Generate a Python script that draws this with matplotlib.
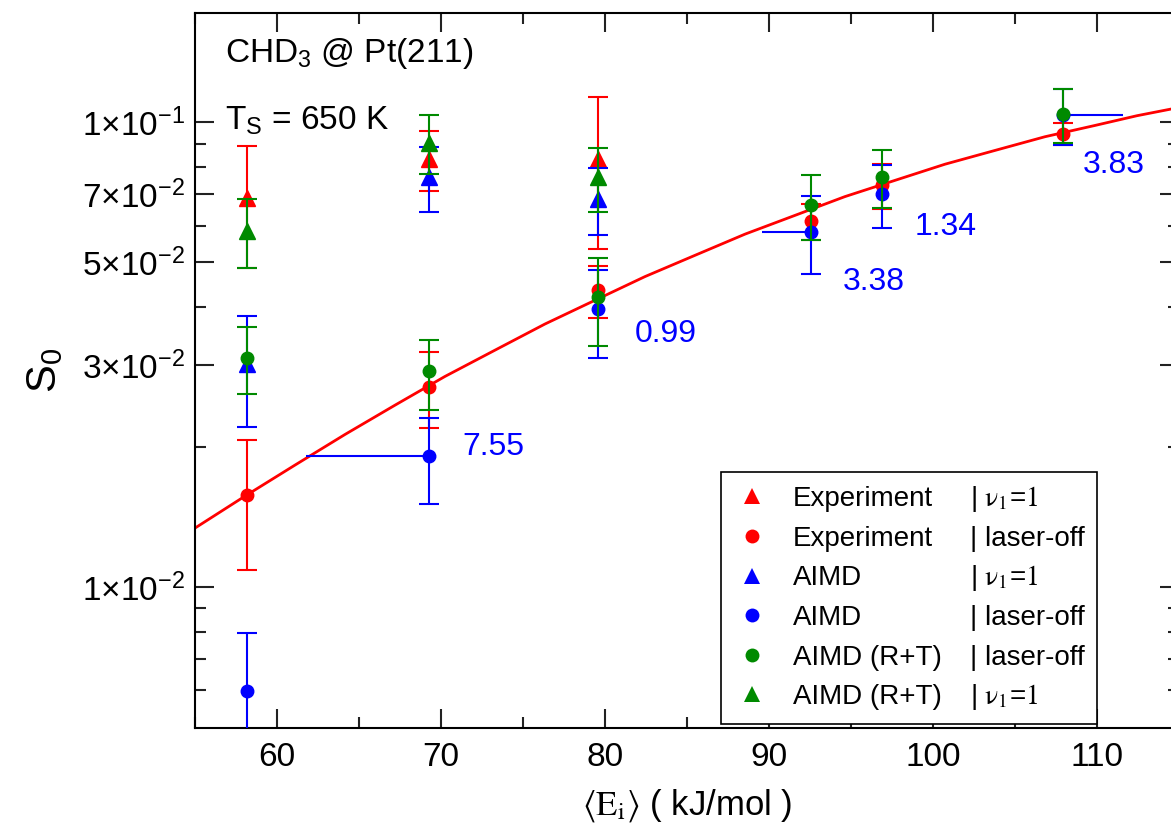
import matplotlib
matplotlib.use("Agg")
import matplotlib.pyplot as plt
from matplotlib.lines import Line2D
from matplotlib.ticker import MultipleLocator, NullFormatter

plt.rcParams["font.family"] = ["Liberation Sans", "DejaVu Sans"]
plt.rcParams["mathtext.fontset"] = "stix"
plt.rcParams["mathtext.default"] = "regular"

RED = "#ff0000"
BLUE = "#0000ff"
GREEN = "#008a00"

# incidence energies (kJ/mol)
energy = [58.2, 69.25, 79.55, 92.55, 96.9, 107.9]
energy_v1 = [58.2, 69.25, 79.55]

# sticking probabilities and error bars
exp_v1 = [0.0687, 0.0834, 0.0833]
exp_v1_err = [0.0201, 0.0123, 0.0300]
exp_off = [0.0158, 0.0270, 0.0435, 0.0613, 0.0732, 0.0946]
exp_off_err = [0.0049, 0.0050, 0.0056, 0.0055, 0.0080, 0.0051]
aimd_v1 = [0.0302, 0.0765, 0.0684]
aimd_v1_err = [0.0081, 0.0122, 0.0112]
aimd_off = [0.00597, 0.0191, 0.0396, 0.0582, 0.0702, 0.1038]
aimd_off_err = [0.0020, 0.0040, 0.0085, 0.0111, 0.0109, 0.0143]
rt_off = [0.0311, 0.0291, 0.0420, 0.0664, 0.0764, 0.1043]
rt_off_err = [0.0051, 0.0050, 0.0090, 0.0105, 0.0110, 0.0140]
rt_v1 = [0.0585, 0.0905, 0.0762]
rt_v1_err = [0.0099, 0.0132, 0.0120]

# fit through the laser-off experiment
fit_energy = [55.0, 58.05, 61.1, 64.15, 67.2, 70.24, 73.29, 76.34, 79.39, 82.44, 85.49,
              88.54, 91.59, 94.63, 97.68, 100.73, 103.78, 106.83, 109.88, 112.44, 115.0]
fit_s0 = [0.01339, 0.01569, 0.01830, 0.02130, 0.02463, 0.02839, 0.03234, 0.03682, 0.04142,
          0.04658, 0.05176, 0.05749, 0.06310, 0.06924, 0.07504, 0.08130, 0.08705, 0.09317,
          0.09853, 0.1034, 0.1077]

# energy shift of AIMD laser-off points onto the fit
shift_idx = [1, 3, 5]
shift_to = [61.75, 89.6, 111.6]
shift_labels = ["7.55", "0.99", "3.38", "1.34", "3.83"]

names = ["Experiment", "Experiment", "AIMD", "AIMD", "AIMD (R+T)", "AIMD (R+T)"]
nu1 = r"| $\mathrm{\nu_1}$=$\mathrm{1}$"
states = [nu1, "| laser-off", nu1, "| laser-off", "| laser-off", nu1]

ytick_values = [0.01, 0.03, 0.05, 0.07, 0.1]
ytick_labels = ["1×10$^{-2}$", "3×10$^{-2}$", "5×10$^{-2}$", "7×10$^{-2}$", "1×10$^{-1}$"]
yminor_values = [0.006, 0.007, 0.008, 0.009, 0.02, 0.04, 0.06, 0.08, 0.09]

fig = plt.figure(figsize=(11.71, 8.26), dpi=100)
ax = fig.add_axes([0.1665, 0.1186, 0.8403, 0.8656])

ax.plot(fit_energy, fit_s0, color=RED, lw=2.0, zorder=2)

series = [
    (energy_v1, exp_v1, exp_v1_err, "^", RED),
    (energy, exp_off, exp_off_err, "o", RED),
    (energy_v1, aimd_v1, aimd_v1_err, "^", BLUE),
    (energy, aimd_off, aimd_off_err, "o", BLUE),
    (energy, rt_off, rt_off_err, "o", GREEN),
    (energy_v1, rt_v1, rt_v1_err, "^", GREEN),
]
handles = []
for i, (x, y, err, marker, color) in enumerate(series):
    ms = 11 if marker == "^" else 9
    ax.errorbar(x, y, yerr=err, fmt=marker, color=color, ms=ms,
                elinewidth=1.5, capsize=7.5, capthick=1.5, zorder=3 + i * 0.5)
    handles.append(Line2D([], [], ls="none", marker=marker, color=color, ms=ms + 1, mew=0))

ax.hlines([aimd_off[i] for i in shift_idx], [energy[i] for i in shift_idx], shift_to,
          color=BLUE, lw=1.5, zorder=4.5)

label_pos = [(71.3, 0.01923), (81.8, 0.03364), (94.5, 0.04352), (98.9, 0.05714), (109.15, 0.07768)]
for text, (lx, ly) in zip(shift_labels, label_pos):
    ax.text(lx, ly, text, color=BLUE, fontsize=23, va="baseline", ha="left")

ax.set_xlim(55, 115)
ax.set_yscale("log")
ax.set_ylim(0.00497, 0.172)
ax.xaxis.set_major_locator(MultipleLocator(10))
ax.xaxis.set_minor_locator(MultipleLocator(5))
ax.set_yticks(ytick_values, labels=ytick_labels)
ax.set_yticks(yminor_values, minor=True)
ax.yaxis.set_minor_formatter(NullFormatter())

ax.tick_params(which="both", direction="in", top=True, right=True, width=1.5,
               color="#222222", labelsize=24)
ax.tick_params(which="major", length=14)
ax.tick_params(which="minor", length=8)
ax.tick_params(axis="x", pad=10)
ax.tick_params(axis="y", pad=7)
for spine in ax.spines.values():
    spine.set_linewidth(1.5)

ax.set_ylabel("S$_0$", fontsize=30)
ax.yaxis.set_label_coords(-0.132, 0.5)
ax.set_xlabel(r"$\mathrm{\langle E_i\rangle}$ ( kJ/mol )", fontsize=25)
ax.xaxis.set_label_coords(0.5, -0.083)

ax.text(0.0305, 0.9315, "CHD$_3$ @ Pt(211)", transform=ax.transAxes, fontsize=24, va="baseline")
ax.text(0.0305, 0.8364, "T$_S$ = 650 K", transform=ax.transAxes, fontsize=24, va="baseline")

leg = ax.legend(handles, names, loc="lower left", bbox_to_anchor=(0.5346, 0.0056, 0.3821, 0.3),
                mode="expand", borderaxespad=0, fontsize=20, fancybox=False, edgecolor="black",
                framealpha=1, handlelength=1.23, handletextpad=0.86, labelspacing=0.49,
                borderpad=0.5)
leg.get_frame().set_linewidth(1.2)
leg.set_zorder(10)

# second legend column, aligned on the baselines of the legend labels
fig.canvas.draw()
for text, state in zip(leg.get_texts(), states):
    y_disp = text.get_transform().transform((0, 0))[1]
    y_ax = ax.transAxes.inverted().transform((0, y_disp))[1]
    ax.text(0.7876, y_ax, state, transform=ax.transAxes, fontsize=20,
            va="baseline", ha="left", zorder=11)

fig.savefig("out.png", dpi=100)
